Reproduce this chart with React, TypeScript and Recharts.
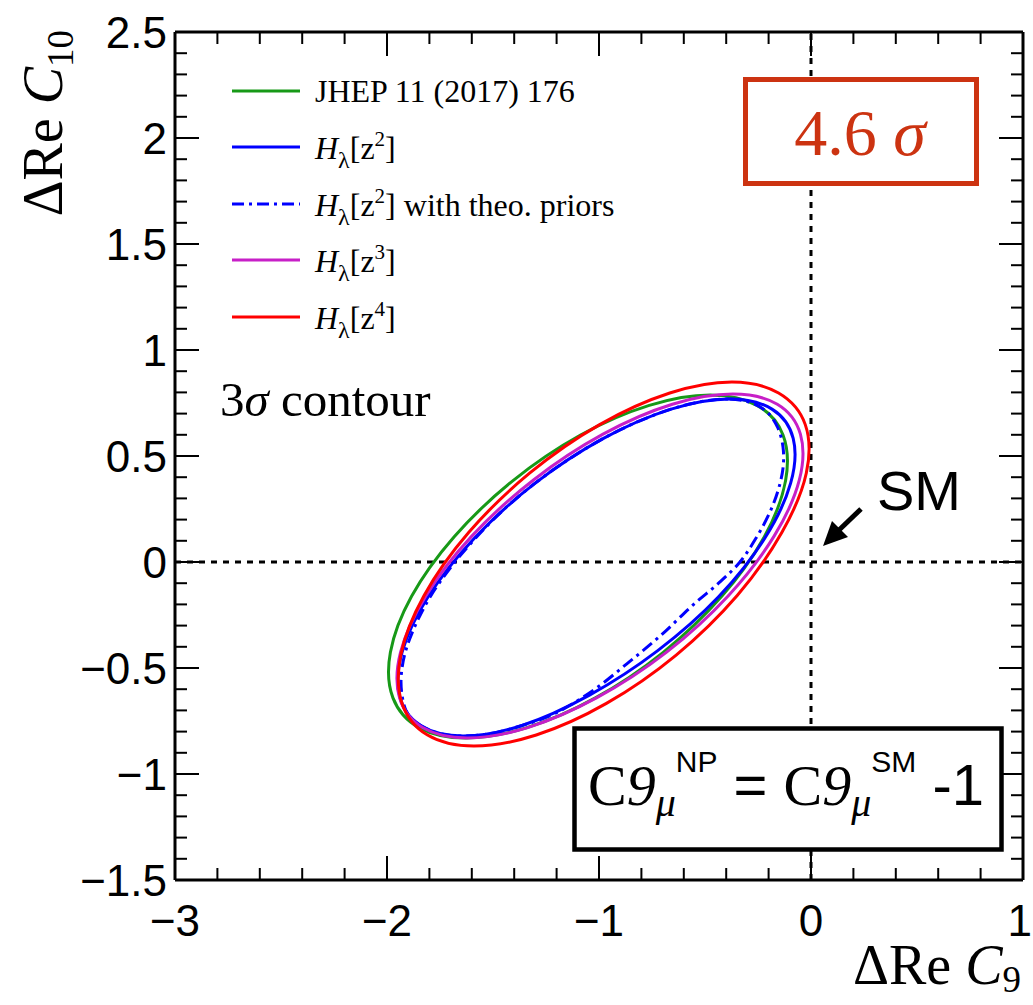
import React from "react";
import { ComposedChart, Scatter, XAxis, YAxis, ReferenceLine } from "recharts";

// 3σ contours in the (ΔRe C9, ΔRe C10) plane, traced clockwise from the top
const jhepContour = [
  { x: -0.475, y: 0.788 }, { x: -0.255, y: 0.739 }, { x: -0.132, y: 0.599 }, { x: -0.12, y: 0.383 },
  { x: -0.22, y: 0.119 }, { x: -0.421, y: -0.162 }, { x: -0.697, y: -0.426 }, { x: -1.017, y: -0.641 },
  { x: -1.34, y: -0.781 }, { x: -1.629, y: -0.83 }, { x: -1.849, y: -0.781 }, { x: -1.972, y: -0.641 },
  { x: -1.984, y: -0.426 }, { x: -1.884, y: -0.162 }, { x: -1.683, y: 0.119 }, { x: -1.407, y: 0.383 },
  { x: -1.087, y: 0.599 }, { x: -0.763, y: 0.739 },
];

const z2Contour = [
  { x: -0.384, y: 0.769 }, { x: -0.184, y: 0.721 }, { x: -0.084, y: 0.583 }, { x: -0.096, y: 0.372 },
  { x: -0.218, y: 0.112 }, { x: -0.436, y: -0.164 }, { x: -0.723, y: -0.418 }, { x: -1.045, y: -0.628 },
  { x: -1.363, y: -0.771 }, { x: -1.639, y: -0.821 }, { x: -1.839, y: -0.773 }, { x: -1.94, y: -0.635 },
  { x: -1.928, y: -0.423 }, { x: -1.806, y: -0.164 }, { x: -1.588, y: 0.112 }, { x: -1.301, y: 0.372 },
  { x: -0.979, y: 0.583 }, { x: -0.66, y: 0.721 },
];

const z2PriorsContour = [
  { x: -0.384, y: 0.769 }, { x: -0.278, y: 0.75 }, { x: -0.203, y: 0.703 }, { x: -0.156, y: 0.632 },
  { x: -0.132, y: 0.542 }, { x: -0.132, y: 0.443 }, { x: -0.156, y: 0.335 }, { x: -0.198, y: 0.226 },
  { x: -0.259, y: 0.113 }, { x: -0.335, y: 0.0 }, { x: -0.436, y: -0.1 }, { x: -0.557, y: -0.203 },
  { x: -0.708, y: -0.346 }, { x: -0.866, y: -0.478 }, { x: -1.028, y: -0.606 }, { x: -1.207, y: -0.714 },
  { x: -1.363, y: -0.771 }, { x: -1.509, y: -0.809 }, { x: -1.639, y: -0.821 }, { x: -1.751, y: -0.809 },
  { x: -1.839, y: -0.773 }, { x: -1.903, y: -0.714 }, { x: -1.928, y: -0.635 }, { x: -1.933, y: -0.537 },
  { x: -1.913, y: -0.423 }, { x: -1.866, y: -0.298 }, { x: -1.796, y: -0.164 }, { x: -1.7, y: -0.026 },
  { x: -1.583, y: 0.112 }, { x: -1.451, y: 0.246 }, { x: -1.301, y: 0.372 }, { x: -1.142, y: 0.485 },
  { x: -0.979, y: 0.583 }, { x: -0.816, y: 0.662 }, { x: -0.66, y: 0.721 }, { x: -0.515, y: 0.757 },
];

const z3Contour = [
  { x: -0.369, y: 0.792 }, { x: -0.159, y: 0.744 }, { x: -0.05, y: 0.603 }, { x: -0.055, y: 0.387 },
  { x: -0.174, y: 0.122 }, { x: -0.391, y: -0.16 }, { x: -0.681, y: -0.425 }, { x: -1.01, y: -0.64 },
  { x: -1.336, y: -0.781 }, { x: -1.622, y: -0.83 }, { x: -1.832, y: -0.781 }, { x: -1.941, y: -0.64 },
  { x: -1.936, y: -0.425 }, { x: -1.817, y: -0.16 }, { x: -1.6, y: 0.122 }, { x: -1.309, y: 0.387 },
  { x: -0.981, y: 0.603 }, { x: -0.654, y: 0.744 },
];

const z4Contour = [
  { x: -0.373, y: 0.849 }, { x: -0.153, y: 0.797 }, { x: -0.027, y: 0.648 }, { x: -0.022, y: 0.42 },
  { x: -0.137, y: 0.14 }, { x: -0.348, y: -0.158 }, { x: -0.636, y: -0.439 }, { x: -0.965, y: -0.667 },
  { x: -1.296, y: -0.816 }, { x: -1.59, y: -0.868 }, { x: -1.809, y: -0.816 }, { x: -1.929, y: -0.667 },
  { x: -1.935, y: -0.439 }, { x: -1.825, y: -0.158 }, { x: -1.614, y: 0.14 }, { x: -1.326, y: 0.42 },
  { x: -0.997, y: 0.648 }, { x: -0.666, y: 0.797 },
];

const xMajorTicks = [-3, -2, -1, 0, 1];
const yMajorTicks = [-1.5, -1, -0.5, 0, 0.5, 1, 1.5, 2, 2.5];
const significance = "4.6";

const SERIF = "'Liberation Serif', 'Times New Roman', serif";
const SANS = "'Liberation Sans', Arial, sans-serif";
const BOX_RED = "#cc3311";

const W = 1033;
const H = 1005;
const PLOT_TOP = 32;
const PLOT_LEFT = 175;
const PLOT_RIGHT = 1023;
const PLOT_BOTTOM = 880;
const Y_AXIS_W = 60;
const X_AXIS_H = 40;

const contours = [
  { key: "jhep", data: jhepContour, color: "#179917", dash: undefined },
  { key: "z2", data: z2Contour, color: "#0000ff", dash: undefined },
  { key: "z2p", data: z2PriorsContour, color: "#0000ff", dash: "12 5 3 5" },
  { key: "z3", data: z3Contour, color: "#c71fc7", dash: undefined },
  { key: "z4", data: z4Contour, color: "#ff0000", dash: undefined },
];

const steps = (lo: number, hi: number, step: number) =>
  Array.from({ length: Math.round((hi - lo) / step) + 1 }, (_, i) => +(lo + i * step).toFixed(2));

const xTickValues = steps(-3, 1, 0.2);
const yTickValues = steps(-1.5, 2.5, 0.1);

const isMajor = (v: number, majors: number[]) => majors.some((m) => Math.abs(m - v) < 1e-6);
const fmt = (v: number) => (v < 0 ? "\u2212" + Math.abs(v) : String(v));

// closed Catmull-Rom spline through the contour points
function closedSpline(context: any) {
  let pts: [number, number][] = [];
  return {
    areaStart() {},
    areaEnd() {},
    lineStart() {
      pts = [];
    },
    point(x: number, y: number) {
      pts.push([+x, +y]);
    },
    lineEnd() {
      const n = pts.length;
      if (n < 3) return;
      context.moveTo(pts[0][0], pts[0][1]);
      for (let i = 0; i < n; i++) {
        const p0 = pts[(i - 1 + n) % n];
        const p1 = pts[i];
        const p2 = pts[(i + 1) % n];
        const p3 = pts[(i + 2) % n];
        context.bezierCurveTo(
          p1[0] + (p2[0] - p0[0]) / 6,
          p1[1] + (p2[1] - p0[1]) / 6,
          p2[0] - (p3[0] - p1[0]) / 6,
          p2[1] - (p3[1] - p1[1]) / 6,
          p2[0],
          p2[1]
        );
      }
      context.closePath();
    },
  };
}

const XTick = (props: any) => {
  const { x, y, payload } = props;
  const v = payload.value;
  const major = isMajor(v, xMajorTicks);
  const len = major ? 24 : 12;
  // the last label would run off the page when centred on the frame
  const atEdge = x + 14 > W;
  return (
    <g>
      <line x1={x} x2={x} y1={y} y2={y - len} stroke="#000" strokeWidth={2} />
      <line x1={x} x2={x} y1={PLOT_TOP} y2={PLOT_TOP + len} stroke="#000" strokeWidth={2} />
      {major && (
        <text
          x={atEdge ? W - 1 : x}
          y={y + 56}
          textAnchor={atEdge ? "end" : "middle"}
          fontFamily={SANS}
          fontSize={44}
          fill="#000"
        >
          {fmt(v)}
        </text>
      )}
    </g>
  );
};

const YTick = (props: any) => {
  const { x, y, payload } = props;
  const v = payload.value;
  const major = isMajor(v, yMajorTicks);
  const len = major ? 24 : 12;
  return (
    <g>
      <line x1={x} x2={x + len} y1={y} y2={y} stroke="#000" strokeWidth={2} />
      <line x1={PLOT_RIGHT} x2={PLOT_RIGHT - len} y1={y} y2={y} stroke="#000" strokeWidth={2} />
      {major && (
        <text x={x - 8} y={y + 16} textAnchor="end" fontFamily={SANS} fontSize={44} fill="#000">
          {fmt(v)}
        </text>
      )}
    </g>
  );
};

const HLabel = ({ x, y, power, suffix = "" }: { x: number; y: number; power: number; suffix?: string }) => (
  <text x={x} y={y} fontFamily={SERIF} fontSize={32} fill="#000">
    <tspan fontStyle="italic">H</tspan>
    <tspan fontSize={24} dy={9}>λ</tspan>
    <tspan dy={-9}>[z</tspan>
    <tspan fontSize={21} dy={-13}>{power}</tspan>
    <tspan dy={13}>]{suffix}</tspan>
  </text>
);

const legendRows = [91, 147, 204, 260, 317];

function Overlay() {
  return (
    <svg width={W} height={H} style={{ position: "absolute", left: 0, top: 0, pointerEvents: "none" }}>
      {/* legend */}
      {contours.map((c, i) => (
        <line
          key={c.key}
          x1={232}
          x2={300}
          y1={legendRows[i]}
          y2={legendRows[i]}
          stroke={c.color}
          strokeWidth={3}
          strokeDasharray={c.dash}
        />
      ))}
      <text x={315} y={legendRows[0] + 11} fontFamily={SERIF} fontSize={32} fill="#000">
        JHEP 11 (2017) 176
      </text>
      <HLabel x={315} y={legendRows[1] + 12} power={2} />
      <HLabel x={315} y={legendRows[2] + 12} power={2} suffix=" with theo. priors" />
      <HLabel x={315} y={legendRows[3] + 12} power={3} />
      <HLabel x={315} y={legendRows[4] + 12} power={4} />

      <text x={220} y={416} fontFamily={SERIF} fontSize={49} fill="#000">
        3<tspan fontStyle="italic">σ</tspan> contour
      </text>

      {/* significance box */}
      <rect x={745.5} y={79.5} width={231} height={104} fill="#fff" stroke={BOX_RED} strokeWidth={5} />
      <text x={860} y={155} textAnchor="middle" fontFamily={SERIF} fontSize={66} fill={BOX_RED}>
        {significance} <tspan fontStyle="italic">σ</tspan>
      </text>

      {/* SM point */}
      <text x={877} y={510} fontFamily={SANS} fontSize={56} fill="#000">
        SM
      </text>
      <line x1={861} y1={509} x2={838} y2={531} stroke="#000" strokeWidth={5} />
      <polygon points="823,546 848,537 832,521" fill="#000" />

      {/* shift of C9 */}
      <rect x={574.5} y={728.5} width={427} height={121} fill="#fff" stroke="#000" strokeWidth={4.5} />
      <text x={786} y={805} textAnchor="middle" fontFamily={SERIF} fontSize={58} fill="#000">
        C<tspan fontStyle="italic">9</tspan>
        <tspan fontStyle="italic" fontSize={40} dy={11}>μ</tspan>
        <tspan fontFamily={SANS} fontSize={30} dy={-44}>NP</tspan>
        <tspan fontFamily={SANS} dy={33}> = </tspan>
        <tspan>C</tspan>
        <tspan fontStyle="italic">9</tspan>
        <tspan fontStyle="italic" fontSize={40} dy={11}>μ</tspan>
        <tspan fontFamily={SANS} fontSize={30} dy={-44}>SM</tspan>
        <tspan fontFamily={SANS} dy={33}> -1</tspan>
      </text>

      {/* axis titles */}
      <text x={1021} y={984} textAnchor="end" fontFamily={SERIF} fontSize={56} fill="#000">
        ΔRe <tspan fontStyle="italic">C</tspan>
        <tspan fontSize={37} dy={8}>9</tspan>
      </text>
      <text transform="translate(62,30) rotate(-90)" textAnchor="end" fontFamily={SERIF} fontSize={56} fill="#000">
        ΔRe <tspan fontStyle="italic">C</tspan>
        <tspan fontSize={37} dy={11}>10</tspan>
      </text>
    </svg>
  );
}

export default function App() {
  return (
    <div style={{ position: "relative", width: W, height: H, background: "#fff" }}>
      <style>{"body{margin:0}"}</style>
      <ComposedChart
        width={W}
        height={H}
        margin={{
          top: PLOT_TOP,
          right: W - PLOT_RIGHT,
          bottom: H - PLOT_BOTTOM - X_AXIS_H,
          left: PLOT_LEFT - Y_AXIS_W,
        }}
      >
        <XAxis
          type="number"
          dataKey="x"
          domain={[-3, 1]}
          ticks={xTickValues}
          interval={0}
          allowDataOverflow
          height={X_AXIS_H}
          tickSize={0}
          tickMargin={0}
          tickLine={false}
          axisLine={{ stroke: "#000", strokeWidth: 3 }}
          tick={<XTick />}
        />
        <YAxis
          type="number"
          dataKey="y"
          domain={[-1.5, 2.5]}
          ticks={yTickValues}
          interval={0}
          allowDataOverflow
          width={Y_AXIS_W}
          tickSize={0}
          tickMargin={0}
          tickLine={false}
          axisLine={{ stroke: "#000", strokeWidth: 3 }}
          tick={<YTick />}
        />
        <ReferenceLine y={2.5} stroke="#000" strokeWidth={3} />
        <ReferenceLine x={1} stroke="#000" strokeWidth={3} />
        <ReferenceLine y={0} stroke="#000" strokeWidth={3} strokeDasharray="6 6" />
        <ReferenceLine x={0} stroke="#000" strokeWidth={3} strokeDasharray="6 6" />
        {contours.map((c) => (
          <Scatter
            key={c.key}
            name={c.key}
            data={c.data}
            fill={c.color}
            isAnimationActive={false}
            shape={() => <g />}
            line={{ stroke: c.color, strokeWidth: 3, strokeDasharray: c.dash, fill: "none" }}
            lineType="joint"
            lineJointType={closedSpline as any}
          />
        ))}
      </ComposedChart>
      <Overlay />
    </div>
  );
}
